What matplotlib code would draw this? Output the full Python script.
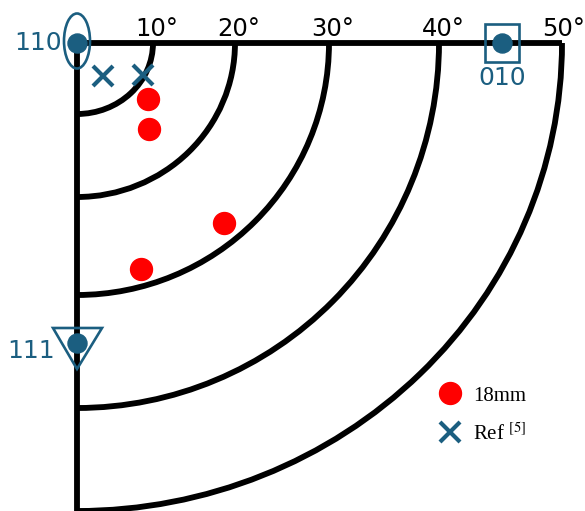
import numpy as np
import matplotlib.pyplot as plt
from matplotlib.patches import Arc, Ellipse, Rectangle, Polygon

plt.rcParams['mathtext.fontset'] = 'stix'

# sector of the pole figure, units ~ px measured from the [110] corner
angles = [10, 20, 30, 40, 50]
radius_x = [76, 158, 252, 362, 485]
radius_y = [71, 154, 252, 365, 468]

# 18mm sample
pts_x = [71, 72, 147, 64]
pts_y = [-56, -86, -180, -226]

# Ref [5]
ref_x = [26, 66]
ref_y = [-33, -32]

poles = ['110', '010', '111']
pole_x = [0, 425, 0]
pole_y = [0, 0, -300]

blue = '#1b5e80'
lw = 4.2

fig = plt.figure(figsize=(5.85, 5.11), dpi=100)
ax = fig.add_axes([0, 0, 1, 1])
ax.set_xlim(-77, 508)
ax.set_ylim(-468, 43)
ax.set_aspect('equal')
ax.axis('off')

# frame + angle arcs
ax.plot([0, radius_x[-1]], [0, 0], color='k', lw=lw, solid_capstyle='butt')
ax.plot([0, 0], [0, -480], color='k', lw=lw, solid_capstyle='butt')
for a, rx, ry in zip(angles, radius_x, radius_y):
    ax.add_patch(Arc((0, 0), 2 * rx, 2 * ry, theta1=270, theta2=360,
                     color='k', lw=lw))
    dx = 4 if a < 50 else 2
    ax.text(rx + dx, 7, '%d°' % a, ha='center', va='baseline', fontsize=17.5)

# poles
ax.plot(pole_x, pole_y, 'o', color=blue, ms=13.7, ls='none', zorder=5)
ax.add_patch(Ellipse((pole_x[0], pole_y[0] + 2), 26, 55, fill=False,
                     ec=blue, lw=1.9, zorder=6))
ax.add_patch(Rectangle((pole_x[1] - 17, pole_y[1] - 19), 34, 38, fill=False,
                       ec=blue, lw=1.9, zorder=6))
ax.add_patch(Polygon([(pole_x[2] - 24, pole_y[2] + 15),
                      (pole_x[2] + 25, pole_y[2] + 15),
                      (pole_x[2], pole_y[2] - 26)],
                     closed=True, fill=False, ec=blue, lw=1.9, zorder=6))
ax.text(pole_x[0] - 15, pole_y[0] - 7, poles[0], ha='right', va='baseline',
        color=blue, fontsize=18)
ax.text(pole_x[1], pole_y[1] - 42, poles[1], ha='center', va='baseline',
        color=blue, fontsize=18)
ax.text(pole_x[2] - 22, pole_y[2] - 15, poles[2], ha='right', va='baseline',
        color=blue, fontsize=18)

# data
ax.plot(pts_x, pts_y, 'o', color='red', ms=15.8, ls='none', zorder=7,
        label='18mm')
ax.plot(ref_x, ref_y, 'x', color=blue, ms=14, mew=3, ls='none', zorder=7,
        label=r'Ref $^{\mathrm{[5]}}$')

ax.legend(loc='upper left', bbox_to_anchor=(362.6, -343),
          bbox_transform=ax.transData, frameon=False, borderpad=0,
          borderaxespad=0, handlelength=1.0, handletextpad=0.6,
          labelspacing=0.84,
          prop={'family': 'Liberation Serif', 'size': 15})

fig.savefig('out.png', dpi=100)
